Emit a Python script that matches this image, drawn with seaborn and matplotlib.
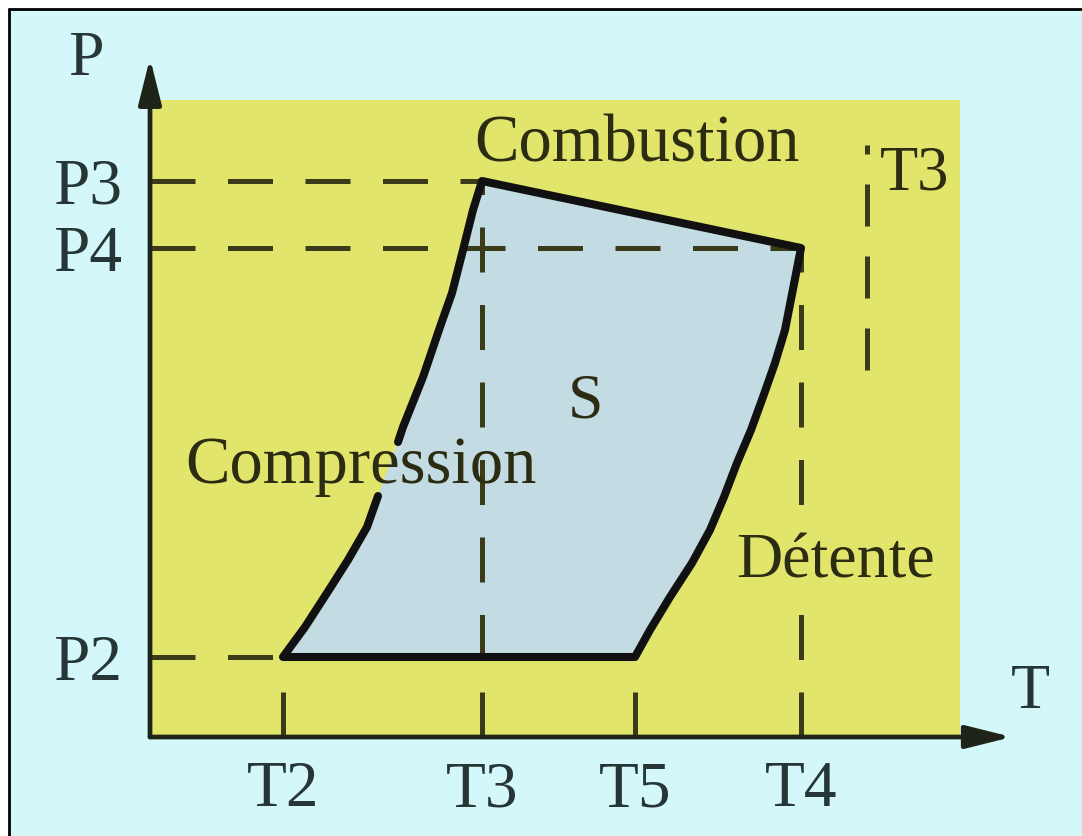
import matplotlib
matplotlib.use("Agg")
import matplotlib.pyplot as plt
from matplotlib.patches import Rectangle
from matplotlib.lines import Line2D
import seaborn as sns

# Values (arbitrary units)
t_labels = ["T2", "T3", "T5", "T4"]
t_values = [133, 332, 485, 651]
p_labels = ["P3", "P4", "P2"]
p_values = [556, 489, 80]

# cycle outline: starts just above the "Compression" label, goes round, ends just below it
cycle_T = [248, 253, 273, 290, 302, 313, 323, 332,
           651, 635, 625, 613, 601, 587, 574, 560, 542, 520, 500, 485,
           133, 155, 177, 198, 217, 228]
cycle_P = [295, 310, 360, 410, 444, 487, 527, 556,
           489, 407, 374, 340, 307, 274, 240, 207, 174, 140, 107, 80,
           80, 110, 144, 177, 210, 241]

# extra dashed marker on the right, labelled T3
extra_T = 717
extra_P = [367, 592]

bg_cyan = "#d4f7fa"
yellow = "#e2e56c"
fill_blue = "#c3dbe3"
dash_col = "#3b3b1a"
text_col = "#2c2c12"
tick_col = "#263636"

sns.set_theme(style="white")
plt.rcParams["font.family"] = ["Liberation Serif", "DejaVu Serif"]

fig = plt.figure(figsize=(10.82, 8.36), dpi=100, facecolor="white")
W, H = 1082, 836

# cyan card with a black edge on top and left
fig.add_artist(Rectangle((9 / W, 0), 1, (H - 9) / H, transform=fig.transFigure,
                         facecolor=bg_cyan, edgecolor="none", zorder=-5))
fig.add_artist(Line2D([9 / W, 1], [(H - 8.5) / H] * 2, transform=fig.transFigure, color="black", lw=2))
fig.add_artist(Line2D([9 / W] * 2, [0, (H - 8.5) / H], transform=fig.transFigure, color="black", lw=2))

ax = fig.add_axes([150 / W, (H - 737) / H, 810 / W, 637 / H])
ax.set_facecolor(yellow)
ax.set_xlim(0, 810)
ax.set_ylim(0, 637)
for s in ax.spines.values():
    s.set_visible(False)

# filled area of the cycle
ax.fill(cycle_T, cycle_P, color=fill_blue, lw=0, zorder=1)

# dashed reference lines
dash = dict(color=dash_col, lw=3.6, dashes=(9, 6.5), zorder=2)
for p, t in zip(p_values, [t_values[1], t_values[3], t_values[0]]):
    ax.plot([0, t], [p, p], **dash)
for t, p in zip(t_values, [p_values[2], p_values[0], p_values[2], p_values[1]]):
    ax.plot([t, t], [0, p], **dash)
ax.plot([extra_T, extra_T], extra_P, color=dash_col, lw=3.6, dashes=(8.4, 6), zorder=2)

# cycle outline
sns.lineplot(x=cycle_T, y=cycle_P, sort=False, estimator=None, color="#111111",
             lw=5.8, ax=ax, zorder=3)

# axes with arrows
arrow = dict(arrowstyle="-|>,head_length=1.4,head_width=0.35", color="#1e2418", lw=3.4,
             mutation_scale=20, shrinkA=0, shrinkB=0)
ax.annotate("", xy=(0, 1.066), xytext=(0, 0), xycoords="axes fraction",
            arrowprops=arrow, annotation_clip=False, zorder=4)
ax.annotate("", xy=(1.064, 0), xytext=(0, 0), xycoords="axes fraction",
            arrowprops=arrow, annotation_clip=False, zorder=4)

ax.set_xticks(t_values, t_labels)
ax.set_yticks(p_values, p_labels)
ax.tick_params(axis="both", length=0, labelsize=47, colors=tick_col)
ax.tick_params(axis="x", pad=17)
ax.tick_params(axis="y", pad=20)
ax.grid(False)

ax.text(-64, 662, "P", fontsize=46, color=tick_col, ha="center", va="baseline", clip_on=False)
ax.text(880, 29, "T", fontsize=46, color=tick_col, ha="center", va="baseline", clip_on=False)

ax.text(487, 575, "Combustion", fontsize=48, color=text_col, ha="center", va="baseline", zorder=5)
ax.text(211, 254, "Compression", fontsize=48, color=text_col, ha="center", va="baseline", zorder=5)
ax.text(435, 319, "S", fontsize=46, color=text_col, ha="center", va="baseline", zorder=5)
ax.text(685, 160, "Détente", fontsize=46, color=text_col, ha="center", va="baseline", zorder=5,
        bbox=dict(facecolor=yellow, edgecolor="none", pad=1))
ax.text(730, 547, "T3", fontsize=45, color=text_col, ha="left", va="baseline", zorder=5)

fig.savefig("out.png", dpi=100, facecolor=fig.get_facecolor())
